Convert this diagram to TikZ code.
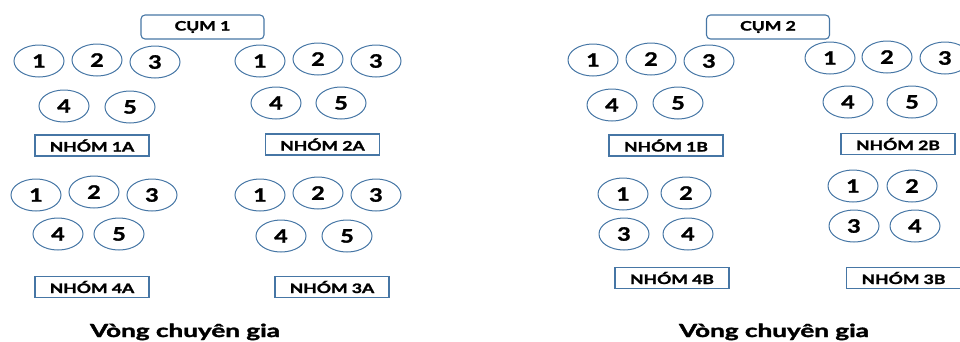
\documentclass[tikz,border=0pt]{standalone}
\usepackage{fontspec}
\setmainfont{Lato}
\newfontfamily\heavyfont{Lato}[UprightFeatures={FakeBold=1.6}, BoldFeatures={FakeBold=1.6}]
\usetikzlibrary{shapes.geometric}
\definecolor{rim}{RGB}{70,118,165}
\newcommand{\wide}[2]{\scalebox{#1}[1]{#2}}
\tikzset{
  seat/.style={ellipse, draw=rim, line width=1pt, minimum width=50pt, minimum height=32pt,
    inner sep=0pt, font=\fontsize{18.5}{18.5}\heavyfont\bfseries},
  teambox/.style={rectangle, draw=rim, line width=1.1pt, minimum width=114pt, minimum height=21pt,
    inner sep=0pt, font=\fontsize{13}{13}\heavyfont\bfseries},
  clusterbox/.style={rectangle, rounded corners=4pt, draw=rim, line width=1.1pt, minimum width=123pt,
    minimum height=24pt, inner sep=0pt, font=\fontsize{13}{13}\heavyfont\bfseries},
  roundtitle/.style={anchor=base, inner sep=0pt, font=\fontsize{18}{18}\heavyfont\bfseries}
}
\begin{document}
\begin{tikzpicture}[x=1pt, y=-1pt]
\useasboundingbox (0,0) rectangle (960,341);
\clip (0,0) rectangle (960,341);

% cluster headings
\node[clusterbox] (c1) at (202.5,27) {\wide{1.35}{CỤM 1}};
\node[clusterbox] (c2) at (768,27) {\wide{1.35}{CỤM 2}};

% group 1A
\node[seat] (a1) at (39,61) {\wide{1.25}{1}};
\node[seat] (a2) at (97,60) {\wide{1.25}{2}};
\node[seat] (a3) at (155,62) {\wide{1.25}{3}};
\node[seat] (a4) at (64,106) {\wide{1.25}{4}};
\node[seat] (a5) at (130,107) {\wide{1.25}{5}};
\node[teambox] (g1a) at (92,145.5) {\wide{1.35}{NHÓM 1A}};

% group 2A
\node[seat] (b1) at (260,61) {\wide{1.25}{1}};
\node[seat] (b2) at (318,59) {\wide{1.25}{2}};
\node[seat] (b3) at (376,61) {\wide{1.25}{3}};
\node[seat] (b4) at (276,103) {\wide{1.25}{4}};
\node[seat] (b5) at (341,103) {\wide{1.25}{5}};
\node[teambox] (g2a) at (322.5,144.5) {\wide{1.35}{NHÓM 2A}};

% group 4A
\node[seat] (d1) at (36,195) {\wide{1.25}{1}};
\node[seat] (d2) at (94,192) {\wide{1.25}{2}};
\node[seat] (d3) at (152,195) {\wide{1.25}{3}};
\node[seat] (d4) at (58,234) {\wide{1.25}{4}};
\node[seat] (d5) at (119,234) {\wide{1.25}{5}};
\node[teambox] (g4a) at (92,287) {\wide{1.35}{NHÓM 4A}};

% group 3A
\node[seat] (e1) at (260,195) {\wide{1.25}{1}};
\node[seat] (e2) at (318,193) {\wide{1.25}{2}};
\node[seat] (e3) at (376,195) {\wide{1.25}{3}};
\node[seat] (e4) at (281,236) {\wide{1.25}{4}};
\node[seat] (e5) at (347,236) {\wide{1.25}{5}};
\node[teambox] (g3a) at (332,287) {\wide{1.35}{NHÓM 3A}};

% group 1B
\node[seat] (f1) at (593,60) {\wide{1.25}{1}};
\node[seat] (f2) at (651,59) {\wide{1.25}{2}};
\node[seat] (f3) at (709,61) {\wide{1.25}{3}};
\node[seat] (f4) at (612,105) {\wide{1.25}{4}};
\node[seat] (f5) at (678,103) {\wide{1.25}{5}};
\node[teambox] (g1b) at (666,145.5) {\wide{1.35}{NHÓM 1B}};

% group 2B
\node[seat] (h1) at (830,58) {\wide{1.25}{1}};
\node[seat] (h2) at (887,57) {\wide{1.25}{2}};
\node[seat] (h3) at (945,58) {\wide{1.25}{3}};
\node[seat] (h4) at (848,102) {\wide{1.25}{4}};
\node[seat] (h5) at (912,102) {\wide{1.25}{5}};
\node[teambox] (g2b) at (898,144) {\wide{1.35}{NHÓM 2B}};

% group 4B
\node[seat] (k1) at (623,194) {\wide{1.25}{1}};
\node[seat] (k2) at (686,193) {\wide{1.25}{2}};
\node[seat] (k3) at (624,234) {\wide{1.25}{3}};
\node[seat] (k4) at (688,234) {\wide{1.25}{4}};
\node[teambox] (g4b) at (672,278) {\wide{1.35}{NHÓM 4B}};

% group 3B
\node[seat] (m1) at (853,186) {\wide{1.25}{1}};
\node[seat] (m2) at (912,186) {\wide{1.25}{2}};
\node[seat] (m3) at (854,226) {\wide{1.25}{3}};
\node[seat] (m4) at (915,226) {\wide{1.25}{4}};
\node[teambox] (g3b) at (903.5,278) {\wide{1.35}{NHÓM 3B}};

% round titles
\node[roundtitle] (t1) at (185,337) {\wide{1.45}{Vòng chuyên gia}};
\node[roundtitle] (t2) at (774,337) {\wide{1.45}{Vòng chuyên gia}};
\end{tikzpicture}
\end{document}
